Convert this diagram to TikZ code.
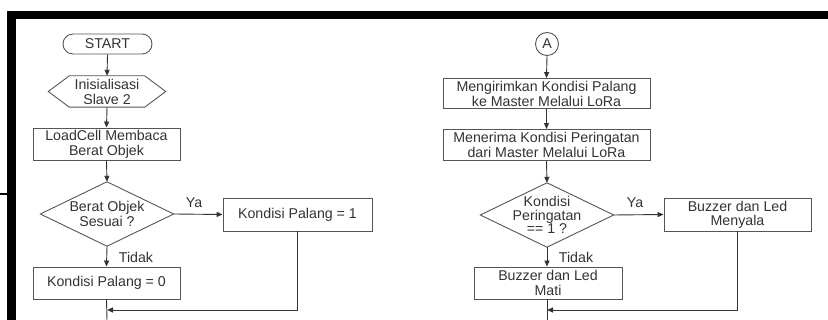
\documentclass[tikz,border=0pt]{standalone}
\usepackage{fontspec}
\setmainfont{Liberation Sans}
\usetikzlibrary{arrows.meta,calc}
\definecolor{ink}{HTML}{333333}
\definecolor{edge}{HTML}{555555}

\begin{document}
\begin{tikzpicture}[x=1pt,y=-1pt,
  font=\fontsize{14.2}{15}\selectfont, text=ink,
  every node/.style={inner sep=0pt, align=center},
  proc/.style={draw=edge, line width=0.9pt, rectangle},
  term/.style={draw=edge, line width=0.9pt, rounded corners=10pt,
               minimum width=89pt, minimum height=20pt},
  conn/.style={draw=edge, circle, line width=0.9pt, minimum size=23pt},
  hidden/.style={rectangle},
  outline/.style={draw=edge, line width=0.9pt},
  flow/.style={draw=ink, line width=0.9pt, -{Triangle[length=6pt,width=5pt]}},
  link/.style={draw=ink, line width=0.9pt},
]
\useasboundingbox (0,0) rectangle (828,320);
\fill[white] (0,0) rectangle (828,320);

% heavy black frame along top and left
\fill[black] (7,11) rectangle (828,19);
\fill[black] (7,11) rectangle (16,320);
\draw[black, line width=1.5pt] (0,194) -- (7,194);

% ---------- left flow ----------
\node[term] (start) at (107.5,44) {START};

\node[hidden, minimum width=75pt, minimum height=31pt] (init) at (107,91.5) {Inisialisasi\\Slave 2};
\draw[outline] (init.north west) -- ([xshift=-21pt]init.west) -- (init.south west)
  -- (init.south east) -- ([xshift=21pt]init.east) -- (init.north east) -- cycle;

\node[proc, minimum width=147pt, minimum height=32pt] (load) at (106.5,144) {LoadCell Membaca\\Berat Objek};

\node[hidden, minimum width=133pt, minimum height=64pt] (cek1) at (107,214) {Berat Objek\\Sesuai ?};
\draw[outline] (cek1.north) -- (cek1.east) -- (cek1.south) -- (cek1.west) -- cycle;

\node[proc, minimum width=149pt, minimum height=33pt] (pal1) at (297.5,214.5) {Kondisi Palang = 1};
\node[proc, minimum width=147pt, minimum height=32pt] (pal0) at (106.5,283) {Kondisi Palang = 0};

\node (ya1) at (194,203) {Ya};
\node (td1) at (136,257) {Tidak};

\coordinate (j1) at (107,310);
\coordinate (e1) at (107,320);

\draw[flow] (start.south) -- (init.north);
\draw[flow] (init.south) -- (load.north);
\draw[flow] (load.south) -- (cek1.north);
\draw[flow] (cek1.east) -- (pal1.west);
\draw[flow] (cek1.south) -- (pal0.north);
\draw[flow] (pal1.south) |- (j1);
\draw[link] (pal0.south) -- (e1);

% ---------- right flow ----------
\node[conn] (A) at (547,44) {A};

\node[proc, minimum width=207pt, minimum height=30pt] (kirim) at (546.5,93.5) {Mengirimkan Kondisi Palang\\ke Master Melalui LoRa};
\node[proc, minimum width=207pt, minimum height=31pt] (terima) at (546.5,145) {Menerima Kondisi Peringatan\\dari Master Melalui LoRa};

\node[hidden, minimum width=133pt, minimum height=64pt,
      font=\fontsize{14.2}{13.5}\selectfont] (cek2) at (547,215) {Kondisi\\Peringatan\\== 1 ?};
\draw[outline] (cek2.north) -- (cek2.east) -- (cek2.south) -- (cek2.west) -- cycle;

\node[proc, minimum width=147pt, minimum height=33pt,
      font=\fontsize{14.2}{14}\selectfont] (nyala) at (737.5,214.5) {Buzzer dan Led\\Menyala};
\node[proc, minimum width=148pt, minimum height=32pt] (mati) at (548,283) {Buzzer dan Led\\Mati};

\node (ya2) at (635,203) {Ya};
\node (td2) at (576,257) {Tidak};

\coordinate (j2) at (547,310);
\coordinate (e2) at (547,320);

\draw[flow] (A.south) -- (kirim.north);
\draw[flow] (kirim.south) -- (terima.north);
\draw[flow] (terima.south) -- (cek2.north);
\draw[flow] (cek2.east) -- (nyala.west);
\draw[flow] (cek2.south) -- (mati.north -| cek2.south);
\draw[flow] (nyala.south) |- (j2);
\draw[link] (mati.south -| cek2.south) -- (e2);
\end{tikzpicture}
\end{document}
